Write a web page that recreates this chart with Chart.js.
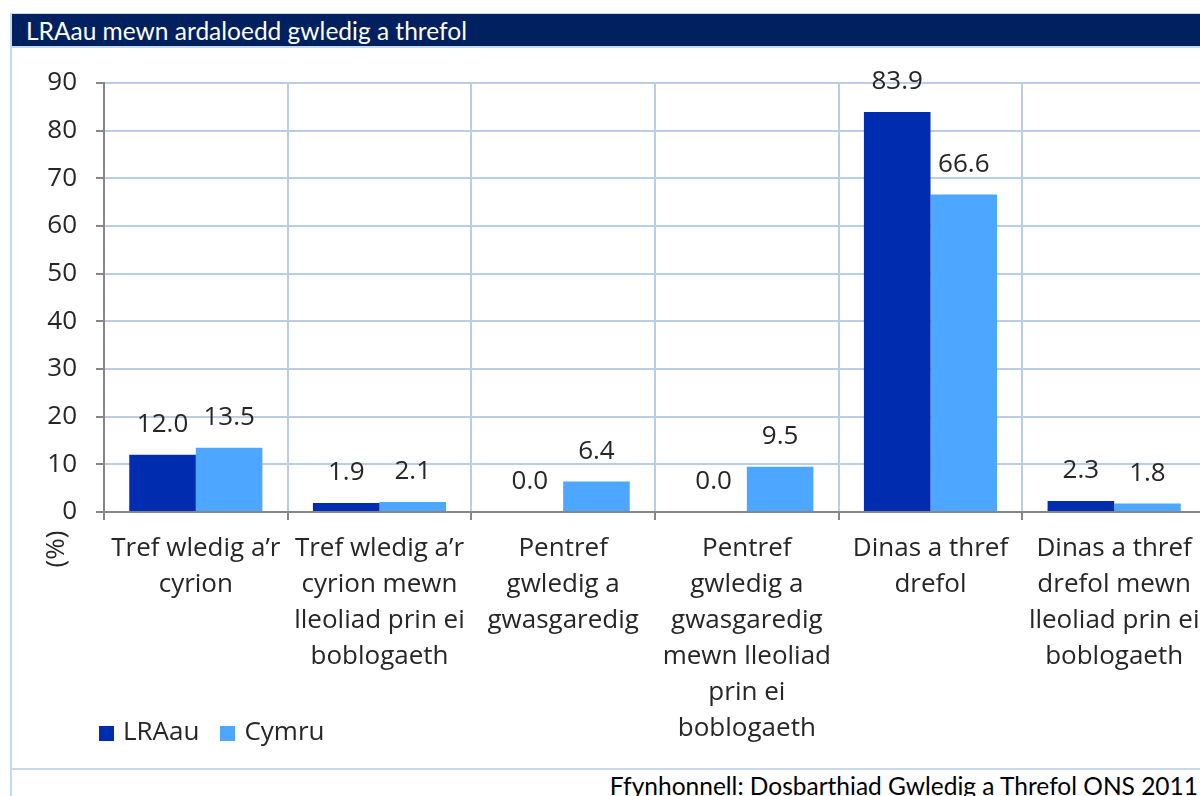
<!DOCTYPE html>
<html>
<head>
<meta charset="utf-8">
<script src="https://cdn.jsdelivr.net/npm/chart.js@4"></script>
<style>
  html, body { margin: 0; padding: 0; background: #fff; }
  body { width: 1200px; height: 796px; overflow: hidden; position: relative; }
  #frame { position: absolute; left: 10px; top: 13px; width: 1200px; height: 800px;
           border-left: 2px solid #c5d9f1; border-top: 1px solid #c5d9f1; }
  #titleBar { position: absolute; left: 12px; top: 14px; width: 1200px; height: 32px;
              background: #002060; border-bottom: 2px solid #c5d9f1; }
  #titleBar span { position: absolute; left: 14px; top: 2px; color: #fff;
                   font: 24.5px Lato, "Open Sans", sans-serif; white-space: nowrap; }
  #chartBox { position: absolute; left: 0; top: 46px; width: 1215px; height: 722px; }
  #footerLine { position: absolute; left: 12px; top: 768px; width: 1200px; height: 0;
                border-top: 2px solid #c5d9f1; }
  #source { position: absolute; right: 2px; top: 771px; color: #000;
            font: 24.5px Lato, "Open Sans", sans-serif; white-space: nowrap; }
  #legend { position: absolute; left: 99px; top: 712px; display: flex; align-items: center;
            font: 26px "Open Sans", sans-serif; color: #262626; }
  #legend .item { display: flex; align-items: center; margin-right: 21px; }
  #legend .box { width: 15px; height: 15px; margin-right: 9px; margin-top: 6px; }
</style>
</head>
<body>
<div id="frame"></div>
<div id="titleBar"><span>LRAau mewn ardaloedd gwledig a threfol</span></div>
<div id="chartBox"><canvas id="chart"></canvas></div>
<div id="legend"></div>
<div id="footerLine"></div>
<div id="source">Ffynhonnell: Dosbarthiad Gwledig a Threfol ONS 2011</div>
<script>
const categories = [
  ["Tref wledig a’r", "cyrion"],
  ["Tref wledig a’r", "cyrion mewn", "lleoliad prin ei", "boblogaeth"],
  ["Pentref", "gwledig a", "gwasgaredig"],
  ["Pentref", "gwledig a", "gwasgaredig", "mewn lleoliad", "prin ei", "boblogaeth"],
  ["Dinas a thref", "drefol"],
  ["Dinas a thref", "drefol mewn", "lleoliad prin ei", "boblogaeth"],
];
const lraValues = [12.0, 1.9, 0.0, 0.0, 83.9, 2.3];
const cymruValues = [13.5, 2.1, 6.4, 9.5, 66.6, 1.8];
const seriesNames = ["LRAau", "Cymru"];
const yMin = 0;
const yMax = 90;
const yStep = 10;
const yTitle = "(%)";

const fontFamily = '"Open Sans", sans-serif';
const textColor = "#262626";

const valueLabels = {
  id: "valueLabels",
  afterDatasetsDraw(chart) {
    const ctx = chart.ctx;
    ctx.save();
    ctx.font = `26px ${fontFamily}`;
    ctx.fillStyle = textColor;
    ctx.textAlign = "center";
    ctx.textBaseline = "middle";
    chart.data.datasets.forEach((dataset, i) => {
      chart.getDatasetMeta(i).data.forEach((bar, j) => {
        ctx.fillText(dataset.data[j].toFixed(1), bar.x, bar.y - 30);
      });
    });
    ctx.restore();
  },
};

const unitLabel = {
  id: "unitLabel",
  afterDraw(chart) {
    const ctx = chart.ctx;
    const x = chart.scales.y.left + 57;
    const y = chart.scales.x.top + 37;
    ctx.save();
    ctx.translate(x, y);
    ctx.rotate(-Math.PI / 2);
    ctx.font = `26px ${fontFamily}`;
    ctx.fillStyle = textColor;
    ctx.textAlign = "center";
    ctx.textBaseline = "middle";
    ctx.fillText(yTitle, 0, 0);
    ctx.restore();
  },
};

const chart = new Chart(document.querySelector("#chart"), {
  type: "bar",
  data: {
    labels: categories,
    datasets: [
      { label: seriesNames[0], data: lraValues, backgroundColor: "#002db0" },
      { label: seriesNames[1], data: cymruValues, backgroundColor: "#4da6ff" },
    ],
  },
  options: {
    responsive: true,
    maintainAspectRatio: false,
    animation: false,
    layout: { padding: { top: 37, left: 0, right: 9, bottom: 0 } },
    datasets: { bar: { categoryPercentage: 0.725, barPercentage: 1 } },
    plugins: { legend: { display: false }, tooltip: { enabled: false } },
    scales: {
      x: {
        grid: { color: "#b9cde5", lineWidth: 2, tickColor: "#868686", tickLength: 8 },
        border: { color: "#868686", width: 2 },
        ticks: {
          color: textColor,
          font: { family: fontFamily, size: 26, lineHeight: 36 / 26 },
          maxRotation: 0,
          autoSkip: false,
          padding: 11,
        },
        afterFit: (scale) => { scale.height = 256; },
      },
      y: {
        min: yMin,
        max: yMax,
        grid: { color: "#b9cde5", lineWidth: 2, tickColor: "#868686", tickLength: 8 },
        border: { color: "#868686", width: 2 },
        ticks: {
          stepSize: yStep,
          color: textColor,
          font: { family: fontFamily, size: 26 },
          padding: 19,
        },
        afterFit: (scale) => { scale.width = 104; },
      },
    },
  },
  plugins: [valueLabels, unitLabel],
});

const legend = document.querySelector("#legend");
chart.data.datasets.forEach((dataset) => {
  const item = document.createElement("div");
  item.className = "item";
  item.innerHTML = `<span class="box" style="background:${dataset.backgroundColor}"></span><span>${dataset.label}</span>`;
  legend.append(item);
});
</script>
</body>
</html>
